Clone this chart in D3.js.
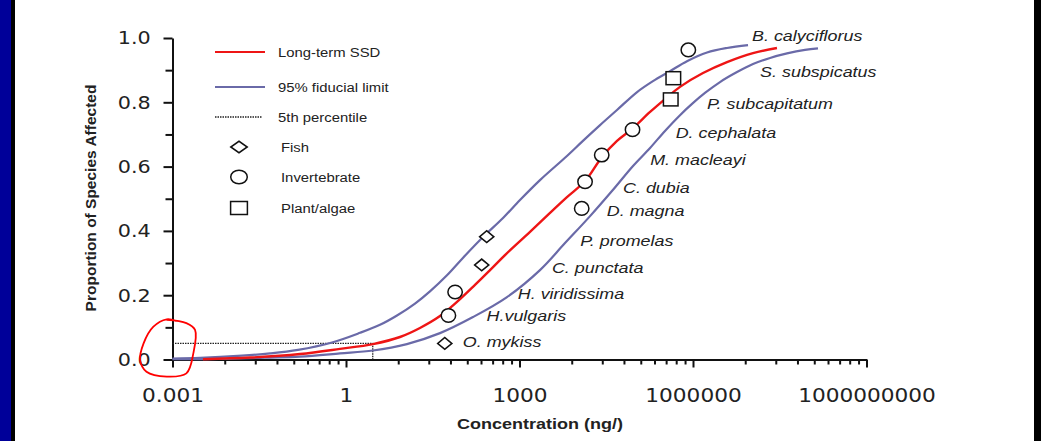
<!DOCTYPE html>
<html>
<head>
<meta charset="utf-8">
<script src="https://cdn.jsdelivr.net/npm/d3@7"></script>
<style>
  body { margin: 0; background: #fff; }
  svg { display: block; }
  text { font-family: "Liberation Sans", Arial, sans-serif; fill: #222; }
  .tick text { font-family: "DejaVu Sans", Verdana, sans-serif; }
</style>
</head>
<body>
<div class="layout"></div>
<script>
// axis ticks
const majorTicks = [0.001, 1, 1000, 1000000, 1000000000];
const majorTickLabels = ["0.001", "1", "1000", "1000000", "1000000000"];
const minorSteps = [2, 3, 4, 5, 6, 7, 8, 9];
const proportionTicks = [0, 0.2, 0.4, 0.6, 0.8, 1.0];
const proportionLabels = ["0.0", "0.2", "0.4", "0.6", "0.8", "1.0"];
const proportionMinor = [0.1, 0.3, 0.5, 0.7, 0.9];

// fitted curves, [concentration ng/L, proportion]
const ssdCurve = [
  [0.00336, 0.001], [0.0219, 0.006], [0.16, 0.017], [0.787, 0.033], [2.93, 0.048],
  [8.59, 0.07], [19, 0.098], [42.2, 0.135], [83, 0.179], [170, 0.232],
  [309, 0.278], [585, 0.328], [1520, 0.397], [3370, 0.456], [6620, 0.505],
  [13600, 0.555], [26700, 0.63], [48500, 0.68], [88100, 0.717], [181000, 0.77],
  [328000, 0.81], [596000, 0.848], [1490000, 0.891], [3870000, 0.925],
  [10900000, 0.953], [28300000, 0.969]
];
const upperLimit = [
  [0.001, 0.003], [0.003, 0.005], [0.0159, 0.012], [0.0485, 0.019], [0.148, 0.03],
  [0.573, 0.053], [1.75, 0.083], [3.87, 0.108], [7.62, 0.137], [15.6, 0.174],
  [28.3, 0.212], [55.7, 0.262], [105, 0.316], [234, 0.381], [519, 0.44],
  [1020, 0.496], [2260, 0.558], [6620, 0.633], [12500, 0.68], [24700, 0.729],
  [48500, 0.776], [108000, 0.832], [203000, 0.866], [400000, 0.897],
  [787000, 0.928], [1750000, 0.955], [3870000, 0.969], [8940000, 0.978]
];
const lowerLimit = [
  [0.001, 0.001], [0.0066, 0.002], [0.0397, 0.006], [0.16, 0.009], [0.787, 0.019],
  [2.93, 0.028], [11.3, 0.048], [42.2, 0.082], [157, 0.132], [608, 0.194],
  [2260, 0.278], [6120, 0.362], [16600, 0.446], [39700, 0.524], [91800, 0.602],
  [181000, 0.658], [328000, 0.711], [596000, 0.76], [962000, 0.795],
  [1610000, 0.829], [2930000, 0.863], [5770000, 0.894], [10900000, 0.919],
  [21500000, 0.938], [42300000, 0.952], [86500000, 0.963], [145000000, 0.968]
];

// 5th percentile (HC5)
const hc5Conc = 2.9;
const hc5Prop = 0.05;

// species toxicity data
const speciesNames = ["O. mykiss", "H.vulgaris", "H. viridissima", "C. punctata", "P. promelas",
  "D. magna", "C. dubia", "M. macleayi", "D. cephalata", "P. subcapitatum", "S. subspicatus", "B. calyciflorus"];
const speciesGroup = ["Fish", "Invertebrate", "Invertebrate", "Fish", "Fish", "Invertebrate",
  "Invertebrate", "Invertebrate", "Invertebrate", "Plant/algae", "Plant/algae", "Invertebrate"];
const speciesConc = [51, 59, 77, 222, 271, 11900, 13600, 26400, 90000, 412000, 457000, 830000];
const speciesProp = [0.05, 0.137, 0.21, 0.294, 0.382, 0.47, 0.553, 0.636, 0.715, 0.809, 0.875, 0.963];

const legendNames = ["Long-term SSD", "95% fiducial limit", "5th percentile", "Fish", "Invertebrate", "Plant/algae"];

// where the species names sit, [log10 concentration, proportion]
const labelAnchor = [[2.02, 0.054], [2.43, 0.135], [2.97, 0.204], [3.56, 0.285], [4.05, 0.369],
  [4.51, 0.462], [4.79, 0.533], [5.26, 0.621], [5.70, 0.705], [6.24, 0.795], [7.16, 0.894], [7.02, 1.006]];
const legendRowY = [52, 87, 117, 147, 177, 208];

// hand drawn mark round the origin, [log10 concentration, proportion]
const originLoop = [[-3.1, 0.123], [-2.76, 0.113], [-2.61, 0.092], [-2.64, 0.019], [-2.76, -0.043],
  [-3.1, -0.053], [-3.45, -0.038], [-3.56, -0.002], [-3.5, 0.05], [-3.33, 0.102], [-3.1, 0.125], [-2.94, 0.12]];

const red = "#ee1515";
const blue = "#6a6aa8";

function drawChart() {
  var svg = d3.select("div.layout")
    .append("svg")
    .attr("width", 1041)
    .attr("height", 441);

  // slide frame
  svg.append("rect").attr("width", 1041).attr("height", 441).attr("fill", "#fff");
  svg.append("rect").attr("width", 15).attr("height", 441).attr("fill", "#000");
  svg.append("rect").attr("width", 11).attr("height", 441).attr("fill", "#000099");
  svg.append("rect").attr("x", 1034).attr("width", 7).attr("height", 441).attr("fill", "#000");

  var x = d3.scaleLog().domain([0.001, 1e9]).range([172.5, 866.5]);
  var y = d3.scaleLinear().domain([0, 1]).range([359.5, 38]);

  // minor ticks sit at k^3 steps inside each 1000-fold interval
  var minorTicks = [];
  majorTicks.slice(0, -1).forEach(function (m) {
    minorSteps.forEach(function (k) { minorTicks.push(m * k * k * k); });
  });

  svg.append("g")
    .attr("class", "x minor")
    .attr("transform", "translate(0,359.5)")
    .call(d3.axisBottom(x).tickValues(minorTicks).tickSize(5).tickSizeOuter(0).tickFormat(""))
    .call(g => g.select(".domain").remove());

  svg.append("g")
    .attr("class", "x major")
    .attr("transform", "translate(0,359.5)")
    .call(d3.axisBottom(x).tickValues(majorTicks).tickSize(8).tickSizeOuter(0).tickPadding(21)
      .tickFormat((d, i) => majorTickLabels[i]));

  svg.append("g")
    .attr("class", "y minor")
    .attr("transform", "translate(172.5,0)")
    .call(d3.axisLeft(y).tickValues(proportionMinor).tickSize(7).tickSizeOuter(0).tickFormat(""))
    .call(g => g.select(".domain").remove());

  svg.append("g")
    .attr("class", "y major")
    .attr("transform", "translate(172.5,0)")
    .call(d3.axisLeft(y).tickValues(proportionTicks).tickSize(9).tickSizeOuter(0)
      .tickFormat((d, i) => proportionLabels[i]));

  svg.selectAll(".domain").attr("stroke", "#111").attr("stroke-width", 2);
  svg.selectAll(".tick line").attr("stroke", "#111").attr("stroke-width", 2);
  svg.selectAll(".x.major text").attr("font-size", 19.5).attr("transform", "scale(1.11,1)");
  svg.selectAll(".y.major text").attr("font-size", 18.5).attr("x", -19.5).attr("transform", "scale(1.12,1)");

  // axis titles
  svg.append("text")
    .attr("transform", "translate(540,429) scale(1.2,1)")
    .attr("text-anchor", "middle")
    .attr("font-size", 15)
    .attr("font-weight", "bold")
    .text("Concentration (ng/)");

  svg.append("text")
    .attr("transform", "translate(96,198) rotate(-90)")
    .attr("text-anchor", "middle")
    .attr("font-size", 15.5)
    .attr("font-weight", "bold")
    .text("Proportion of Species Affected");

  var line = d3.line()
    .x(d => x(d[0]))
    .y(d => y(d[1]))
    .curve(d3.curveCatmullRom.alpha(0.5));

  // 5th percentile
  svg.append("path")
    .attr("d", d3.line().x(d => x(d[0])).y(d => y(d[1]))([[0.001, hc5Prop], [hc5Conc, hc5Prop], [hc5Conc, 0]]))
    .attr("fill", "none")
    .attr("stroke", "#222")
    .attr("stroke-width", 1.3)
    .attr("stroke-dasharray", "1.5,1");

  [upperLimit, lowerLimit].forEach(function (curve) {
    svg.append("path")
      .attr("d", line(curve))
      .attr("fill", "none")
      .attr("stroke", blue)
      .attr("stroke-width", 2.2);
  });

  svg.append("path")
    .attr("d", line(ssdCurve))
    .attr("fill", "none")
    .attr("stroke", red)
    .attr("stroke-width", 2.4);

  // species points
  svg.selectAll("g.species")
    .data(speciesNames)
    .enter()
    .append("g")
    .attr("class", "species")
    .attr("transform", (d, i) => "translate(" + x(speciesConc[i]) + "," + y(speciesProp[i]) + ")")
    .each(function (d, i) {
      drawMarker(d3.select(this), speciesGroup[i], 1);
    });

  svg.selectAll("text.label")
    .data(speciesNames)
    .enter()
    .append("text")
    .attr("class", "label")
    .attr("transform", (d, i) => "translate(" + x(Math.pow(10, labelAnchor[i][0])) + "," + y(labelAnchor[i][1]) + ") scale(1.28,1)")
    .attr("dy", "0.35em")
    .attr("font-size", 14)
    .attr("font-style", "italic")
    .text(d => d);

  // legend
  var legend = svg.append("g").attr("class", "legend");
  legendNames.forEach(function (name, i) {
    var row = legend.append("g").attr("transform", "translate(0," + legendRowY[i] + ")");
    if (i < 3) {
      row.append("line")
        .attr("x1", 215).attr("x2", i == 2 ? 262 : 265)
        .attr("stroke", i == 0 ? red : i == 1 ? blue : "#222")
        .attr("stroke-width", i == 2 ? 1.3 : 2.2)
        .attr("stroke-dasharray", i == 2 ? "1.5,1" : null);
    }
    else {
      drawMarker(row.append("g").attr("transform", "translate(239,0)"), name, 1.15);
    }
    row.append("text")
      .attr("transform", "translate(" + (i < 3 ? 278 : 281) + ",0) scale(1.1,1)")
      .attr("dy", "0.35em")
      .attr("font-size", 13.5)
      .text(name);
  });

  // red hand drawn loop round the origin
  svg.append("path")
    .attr("d", d3.line()
      .x(d => x(Math.pow(10, d[0])))
      .y(d => y(d[1]))
      .curve(d3.curveCatmullRom)(originLoop))
    .attr("fill", "none")
    .attr("stroke", "#ff0000")
    .attr("stroke-width", 1.8);
};

function drawMarker(g, group, sx) {
  if (group === "Fish") {
    g.append("path")
      .attr("d", d3.symbol(d3.symbolSquare, 76)())
      .attr("transform", "scale(" + (1.15 * sx) + ",0.95) rotate(45)")
      .attr("fill", "#fff")
      .attr("stroke", "#111")
      .attr("stroke-width", 1.5);
  }
  else if (group === "Invertebrate") {
    g.append("ellipse")
      .attr("rx", 7.2 * sx)
      .attr("ry", 6.8)
      .attr("fill", "#fff")
      .attr("stroke", "#111")
      .attr("stroke-width", 1.5);
  }
  else {
    g.append("rect")
      .attr("x", -7.3 * sx).attr("y", -6.5)
      .attr("width", 14.6 * sx).attr("height", 13)
      .attr("fill", "#fff")
      .attr("stroke", "#111")
      .attr("stroke-width", 1.5);
  }
}

drawChart();
</script>
</body>
</html>
